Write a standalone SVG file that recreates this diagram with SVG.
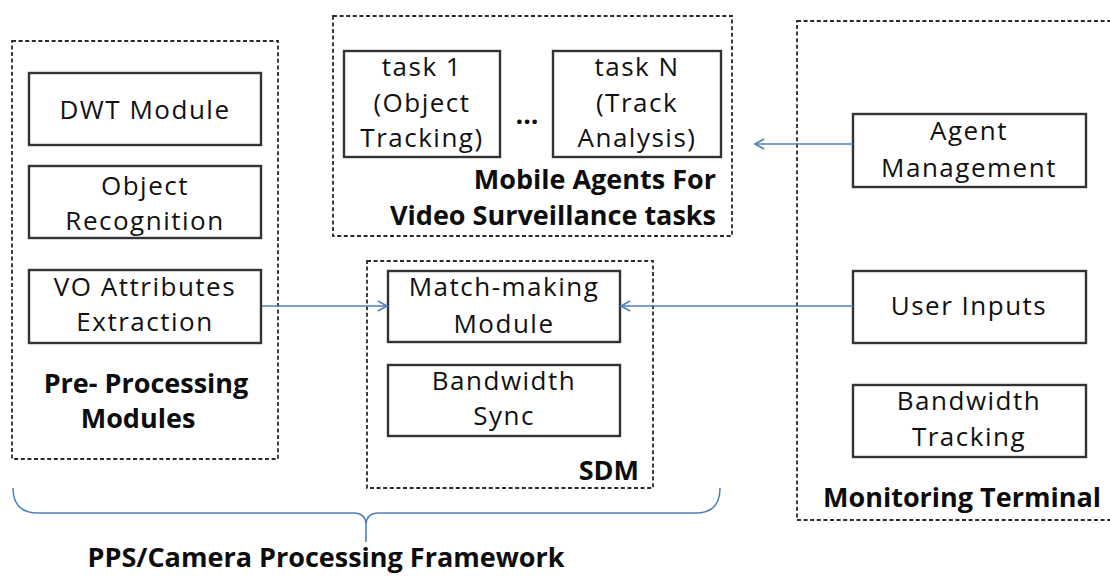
<svg xmlns="http://www.w3.org/2000/svg" width="1110" height="577" viewBox="0 0 1110 577">
  <style>
    .box { fill: #ffffff; stroke: #333333; stroke-width: 2.4; }
    .group { fill: none; stroke: #2a2a2a; stroke-width: 1.8; stroke-dasharray: 4 2.6; }
    .t { font-family: "Open Sans", "Liberation Sans", sans-serif; font-size: 26px; fill: #111111; text-anchor: middle; letter-spacing: 1.5px; }
    .b { font-family: "Open Sans", "Liberation Sans", sans-serif; font-size: 27px; font-weight: bold; fill: #0d0d0d; }
    .link { fill: none; stroke: #4f81bd; stroke-width: 1.6; }
  </style>
  <defs>
    <marker id="open-arrow" markerUnits="userSpaceOnUse" markerWidth="12" markerHeight="12" refX="10" refY="6" orient="auto">
      <path d="M1,1 L10,6 L1,11" fill="none" stroke="#4f81bd" stroke-width="1.6"/>
    </marker>
  </defs>

  <rect width="1110" height="577" fill="#ffffff"/>

  <!-- Pre-processing modules -->
  <g id="pre-processing">
    <rect class="group" x="12" y="41" width="266" height="418"/>
    <text class="b" x="146" y="393" text-anchor="middle">Pre- Processing</text>
    <text class="b" x="138" y="428" text-anchor="middle">Modules</text>
  </g>
  <g id="dwt-module">
    <rect class="box" x="29" y="73" width="232" height="72"/>
    <text class="t" x="145" y="119">DWT Module</text>
  </g>
  <g id="object-recognition">
    <rect class="box" x="29" y="166" width="232" height="72"/>
    <text class="t" x="145" y="195">Object</text>
    <text class="t" x="145" y="230">Recognition</text>
  </g>
  <g id="vo-attributes">
    <rect class="box" x="29" y="270" width="232" height="73"/>
    <text class="t" x="145" y="296">VO Attributes</text>
    <text class="t" x="145" y="331">Extraction</text>
  </g>

  <!-- Mobile agents -->
  <g id="mobile-agents">
    <rect class="group" x="333" y="16" width="399" height="220"/>
    <text class="b" x="716" y="189" text-anchor="end">Mobile Agents For</text>
    <text class="b" x="716" y="225" text-anchor="end">Video Surveillance tasks</text>
    <text class="b" x="527" y="124" text-anchor="middle">...</text>
  </g>
  <g id="task-1">
    <rect class="box" x="344" y="51" width="156" height="106"/>
    <text class="t" x="422" y="76">task 1</text>
    <text class="t" x="422" y="112">(Object</text>
    <text class="t" x="422" y="147">Tracking)</text>
  </g>
  <g id="task-n">
    <rect class="box" x="553" y="51" width="168" height="106"/>
    <text class="t" x="637" y="76">task N</text>
    <text class="t" x="637" y="112">(Track</text>
    <text class="t" x="637" y="147">Analysis)</text>
  </g>

  <!-- SDM -->
  <g id="sdm">
    <rect class="group" x="367" y="261" width="286" height="227"/>
    <text class="b" x="639" y="480" text-anchor="end">SDM</text>
  </g>
  <g id="match-making">
    <rect class="box" x="388" y="271" width="232" height="71"/>
    <text class="t" x="504" y="296">Match-making</text>
    <text class="t" x="504" y="333">Module</text>
  </g>
  <g id="bandwidth-sync">
    <rect class="box" x="388" y="365" width="232" height="71"/>
    <text class="t" x="504" y="390">Bandwidth</text>
    <text class="t" x="504" y="425">Sync</text>
  </g>

  <!-- Monitoring terminal -->
  <g id="monitoring-terminal">
    <rect class="group" x="797" y="21" width="330" height="499"/>
    <text class="b" x="823" y="507">Monitoring Terminal</text>
  </g>
  <g id="agent-management">
    <rect class="box" x="853" y="114" width="233" height="73"/>
    <text class="t" x="969" y="140">Agent</text>
    <text class="t" x="969" y="177">Management</text>
  </g>
  <g id="user-inputs">
    <rect class="box" x="853" y="271" width="233" height="72"/>
    <text class="t" x="969" y="315">User Inputs</text>
  </g>
  <g id="bandwidth-tracking">
    <rect class="box" x="853" y="385" width="233" height="72"/>
    <text class="t" x="969" y="410">Bandwidth</text>
    <text class="t" x="969" y="446">Tracking</text>
  </g>

  <!-- Connectors -->
  <g id="connectors">
    <path class="link" d="M853,144 L755,144" marker-end="url(#open-arrow)"/>
    <path class="link" d="M853,306 L621,306" marker-end="url(#open-arrow)"/>
    <path class="link" d="M262,306 L387,306" marker-end="url(#open-arrow)"/>
  </g>

  <!-- Framework brace and caption -->
  <g id="framework">
    <path class="link" d="M13,488 Q13,513 38,513 L354,513 Q365,513 366,524 L366,542 M366,524 Q367,513 378,513 L696,513 Q720,513 720,488"/>
    <text class="b" x="326" y="567" text-anchor="middle">PPS/Camera Processing Framework</text>
  </g>
</svg>
